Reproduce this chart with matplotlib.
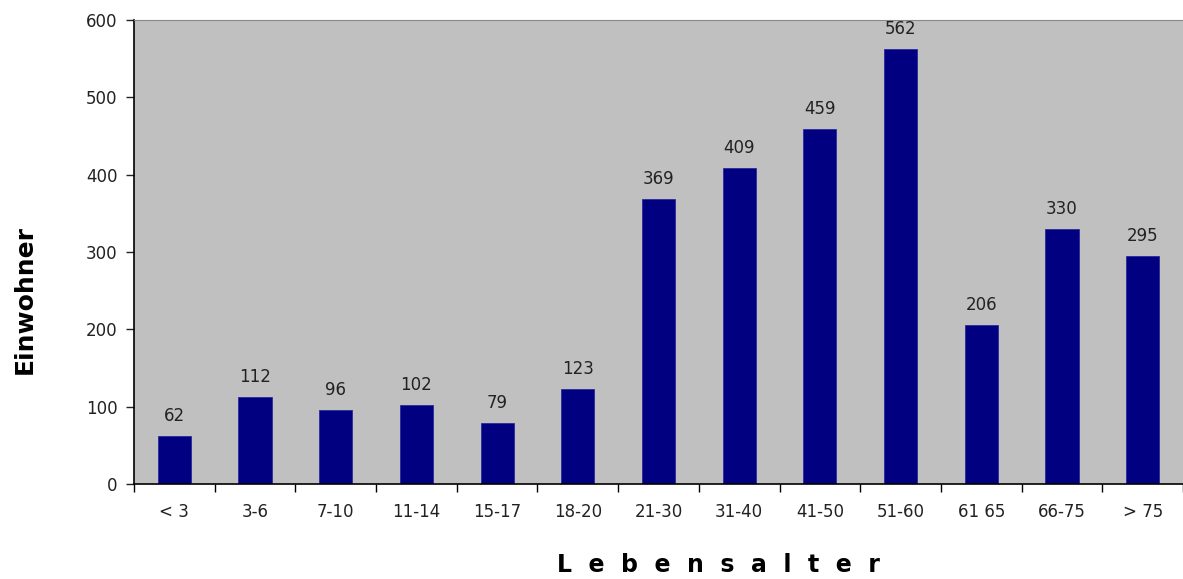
import matplotlib.pyplot as plt
import numpy as np

categories = ['< 3', '3-6', '7-10', '11-14', '15-17', '18-20', '21-30',
              '31-40', '41-50', '51-60', '61 65', '66-75', '> 75']
values = [62, 112, 96, 102, 79, 123, 369, 409, 459, 562, 206, 330, 295]

fig = plt.figure(figsize=(11.83, 5.79), dpi=100)
ax = fig.add_axes([134 / 1183, 1 - 484 / 579, 1 - 134 / 1183, (484 - 20) / 579])
ax.set_facecolor('#C0C0C0')

x = np.arange(len(categories))
bars = ax.bar(x, values, width=0.41, color='#000080', edgecolor='#2a2aa0', linewidth=0.6)
ax.bar_label(bars, padding=8, fontsize=12, color='#222222')

ax.set_xlim(-0.5, len(categories) - 0.5)
ax.set_ylim(0, 600)
ax.set_yticks(range(0, 601, 100))
ax.tick_params(axis='y', labelsize=12, length=6, width=1, direction='out', pad=6, colors='#222222')

ax.set_xticks(x)
ax.set_xticklabels(categories, fontsize=12, color='#222222')
ax.tick_params(axis='x', length=0, pad=14)
ax.set_xticks(np.arange(-0.5, len(categories), 1), minor=True)
ax.tick_params(axis='x', which='minor', length=6, width=1, direction='out')

ax.spines['left'].set_color('black')
ax.spines['bottom'].set_color('black')
ax.spines['left'].set_linewidth(1.2)
ax.spines['bottom'].set_linewidth(1.2)
ax.spines['top'].set_color('#888888')
ax.spines['right'].set_visible(False)

fig.text(0.021, 1 - 300 / 579, 'Einwohner', rotation=90, fontsize=18,
         fontweight='bold', ha='center', va='center')
fig.text(718 / 1183, 1 - 565 / 579, '  '.join('Lebensalter'), fontsize=17,
         fontweight='bold', ha='center', va='center')

fig.savefig('out.png', dpi=100)
